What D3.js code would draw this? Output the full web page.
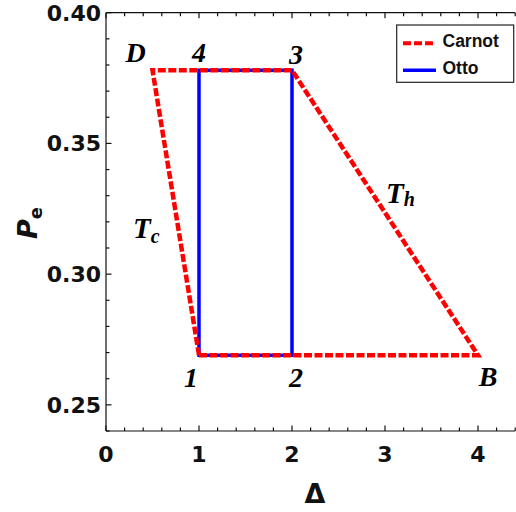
<!DOCTYPE html>
<html>
<head>
<meta charset="utf-8">
<script src="https://cdn.jsdelivr.net/npm/d3@7"></script>
<style>
  html, body { margin: 0; padding: 0; background: #fff; }
  svg { display: block; }
</style>
</head>
<body>
<svg id="chart" width="516" height="512"></svg>
<script>
// Cycle vertices in (Δ, P_e) coordinates
const carnotDelta = [1, 4, 2, 0.5, 1];
const carnotP     = [0.269, 0.269, 0.378, 0.378, 0.269];
const ottoDelta   = [1, 2, 2, 1, 1];
const ottoP       = [0.269, 0.269, 0.378, 0.378, 0.269];

// Corner labels: name and the vertex they sit beside
const cornerNames = ["1", "2", "B", "3", "4", "D"];
const cornerDelta = [1, 2, 4, 2, 1, 0.5];
const cornerP     = [0.269, 0.269, 0.269, 0.378, 0.378, 0.378];

// Axis ticks
const xMajorTicks = [0, 1, 2, 3, 4];
const xTickLabels = ["0", "1", "2", "3", "4"];
const yMajorTicks = [0.25, 0.30, 0.35, 0.40];
const yTickLabels = ["0.25", "0.30", "0.35", "0.40"];

const legendNames = ["Carnot", "Otto"];

const svg = d3.select("#chart");
const plotLeft = 106, plotRight = 515.2, plotTop = 12.7, plotBottom = 431;

const x = d3.scaleLinear().domain([0, 4.4]).range([plotLeft, plotRight]);
const y = d3.scaleLinear().domain([0.24, 0.40]).range([plotBottom, plotTop]);

const tickFont = "'DejaVu Sans', sans-serif";
const axisColor = "#111";

// Minor tick positions
const xMinor = d3.range(0, 4.41, 0.2).map(v => +v.toFixed(2));
const yMinor = d3.range(0.24, 0.4001, 0.01).map(v => +v.toFixed(3));
const isMajorX = v => xMajorTicks.some(t => Math.abs(t - v) < 1e-6);
const isMajorY = v => yMajorTicks.some(t => Math.abs(t - v) < 1e-6);

const axes = svg.append("g").attr("stroke", axisColor).attr("stroke-width", 1.2);

// Frame lines: left, bottom, top
axes.append("line").attr("x1", plotLeft).attr("x2", plotLeft).attr("y1", plotTop).attr("y2", plotBottom);
axes.append("line").attr("x1", plotLeft).attr("x2", plotRight).attr("y1", plotBottom).attr("y2", plotBottom);
axes.append("line").attr("x1", plotLeft).attr("x2", plotRight).attr("y1", plotTop).attr("y2", plotTop);

// Inward ticks on bottom and top
xMinor.forEach(v => {
  const len = isMajorX(v) ? 5.5 : 3.5;
  axes.append("line").attr("x1", x(v)).attr("x2", x(v)).attr("y1", plotBottom).attr("y2", plotBottom - len);
  axes.append("line").attr("x1", x(v)).attr("x2", x(v)).attr("y1", plotTop).attr("y2", plotTop + len);
});
// Inward ticks on the left
yMinor.forEach(v => {
  const len = isMajorY(v) ? 5.5 : 3.5;
  axes.append("line").attr("x1", plotLeft).attr("x2", plotLeft + len).attr("y1", y(v)).attr("y2", y(v));
});

// Tick labels
svg.append("g").selectAll("text").data(xMajorTicks).join("text")
  .attr("x", d => x(d)).attr("y", 461.5)
  .attr("text-anchor", "middle")
  .attr("font-family", tickFont).attr("font-weight", "bold").attr("font-size", 22)
  .attr("fill", "#111")
  .text((d, i) => xTickLabels[i]);

svg.append("g").selectAll("text").data(yMajorTicks).join("text")
  .attr("x", 101).attr("y", d => y(d) + 7.9)
  .attr("text-anchor", "end")
  .attr("font-family", tickFont).attr("font-weight", "bold").attr("font-size", 22)
  .attr("fill", "#111")
  .text((d, i) => yTickLabels[i]);

// Axis titles
svg.append("text")
  .attr("x", 315).attr("y", 503)
  .attr("text-anchor", "middle")
  .attr("font-family", tickFont).attr("font-weight", "bold").attr("font-size", 27)
  .attr("fill", "#111")
  .text("Δ");

const yTitle = svg.append("text")
  .attr("transform", "translate(37,223) rotate(-90)")
  .attr("text-anchor", "middle")
  .attr("font-family", tickFont).attr("font-weight", "bold").attr("font-size", 27)
  .attr("fill", "#111");
yTitle.append("tspan").attr("font-style", "italic").text("P");
yTitle.append("tspan").attr("font-size", 18).attr("dy", 5).text("e");

// Cycle paths
const line = d3.line().x(d => x(d[0])).y(d => y(d[1]));
const ottoPts = ottoDelta.map((d, i) => [d, ottoP[i]]);
const carnotPts = carnotDelta.map((d, i) => [d, carnotP[i]]);

svg.append("path")
  .attr("d", line(ottoPts) + "Z")
  .attr("fill", "none").attr("stroke", "#0000ff").attr("stroke-width", 3.5)
  .attr("stroke-linejoin", "miter");

svg.append("path")
  .attr("d", line(carnotPts) + "Z")
  .attr("fill", "none").attr("stroke", "#ff0000").attr("stroke-width", 4.5)
  .attr("stroke-dasharray", "8,2.5")
  .attr("stroke-linejoin", "miter");

// Corner labels, offset from their vertices
const labelOffset = {
  "1": [-8, 32], "2": [4, 32], "B": [10, 31],
  "3": [4, -6], "4": [0, -8], "D": [-17, -8]
};
const serif = "'Liberation Serif', 'Times New Roman', serif";
svg.append("g").selectAll("text").data(cornerNames).join("text")
  .attr("x", (d, i) => x(cornerDelta[i]) + labelOffset[d][0])
  .attr("y", (d, i) => y(cornerP[i]) + labelOffset[d][1])
  .attr("text-anchor", "middle")
  .attr("font-family", serif).attr("font-style", "italic").attr("font-weight", "bold")
  .attr("font-size", 28).attr("fill", "#000")
  .text(d => d);

// Isotherm labels
function isotherm(px, py, sub, subDy) {
  const t = svg.append("text")
    .attr("x", px).attr("y", py)
    .attr("font-family", serif).attr("font-style", "italic").attr("font-weight", "bold")
    .attr("font-size", 29).attr("fill", "#000");
  t.append("tspan").text("T");
  t.append("tspan").attr("font-size", 20).attr("dy", subDy).text(sub);
}
isotherm(133, 238, "c", 5);
isotherm(386, 202.7, "h", 3.5);

// Legend
const lg = svg.append("g");
lg.append("rect")
  .attr("x", 396.7).attr("y", 25).attr("width", 117).attr("height", 57.3)
  .attr("fill", "#fff").attr("stroke", "#222").attr("stroke-width", 1.2);
const legendStyle = [
  { color: "#ff0000", dash: "8,3", width: 4 },
  { color: "#0000ff", dash: null, width: 3.5 }
];
legendNames.forEach((name, i) => {
  const cy = 43.3 + i * 27;
  lg.append("line")
    .attr("x1", 403).attr("x2", 436).attr("y1", cy).attr("y2", cy)
    .attr("stroke", legendStyle[i].color).attr("stroke-width", legendStyle[i].width)
    .attr("stroke-dasharray", legendStyle[i].dash);
  lg.append("text")
    .attr("x", 442.5).attr("y", 46.8 + i * 27.3)
    .attr("font-family", "'Liberation Sans', Arial, sans-serif").attr("font-weight", "bold")
    .attr("font-size", 17.5).attr("fill", "#111")
    .text(name);
});
</script>
</body>
</html>
